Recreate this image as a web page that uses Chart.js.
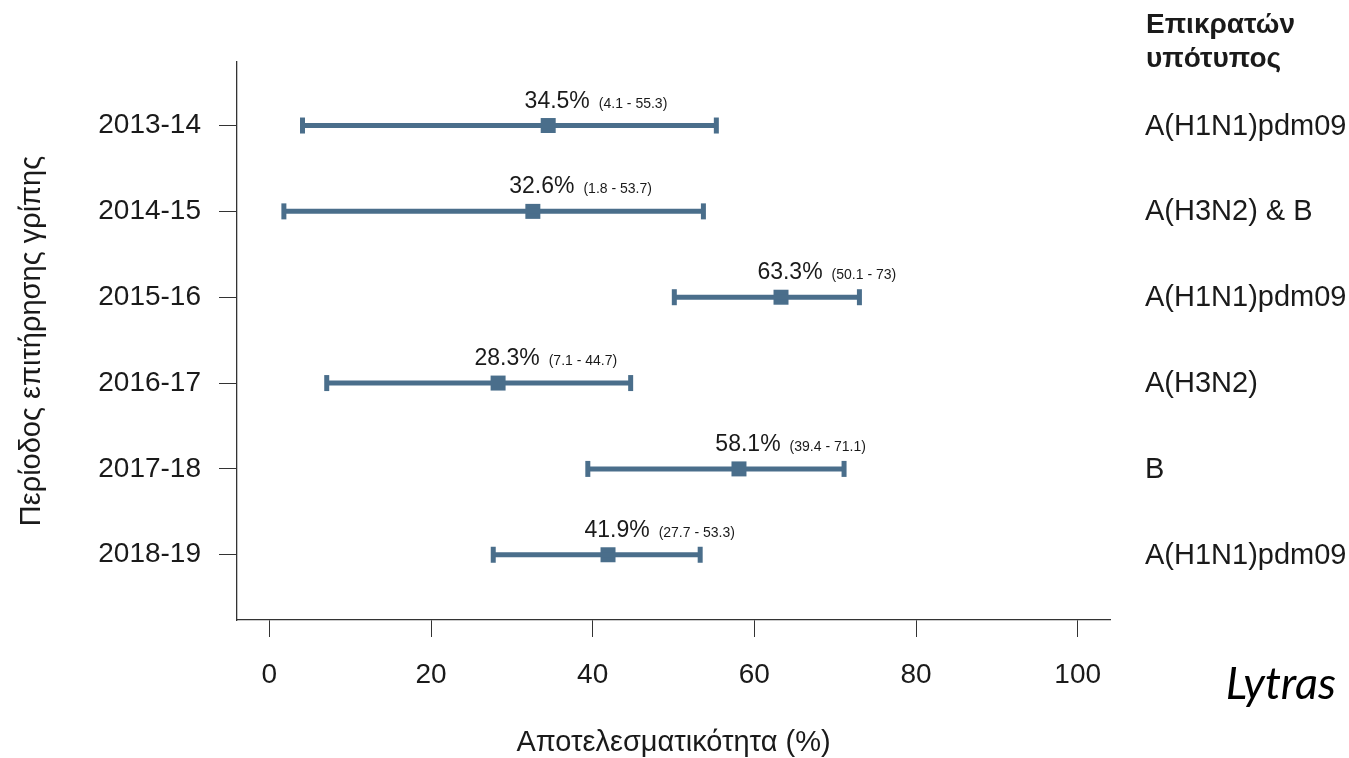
<!DOCTYPE html>
<html><head><meta charset="utf-8">
<script src="https://cdn.jsdelivr.net/npm/chart.js@4"></script>
<style>html,body{margin:0;padding:0;background:#fff}#wrap{width:1349px;height:758px;position:relative}</style>
</head><body><div id="wrap"><canvas id="c" width="1349" height="758"></canvas></div>
<script>
const seasons = ['2013-14','2014-15','2015-16','2016-17','2017-18','2018-19'];
const effect = [34.5, 32.6, 63.3, 28.3, 58.1, 41.9];
const lower = [4.1, 1.8, 50.1, 7.1, 39.4, 27.7];
const upper = [55.3, 53.7, 73, 44.7, 71.1, 53.3];
const subtypes = ['A(H1N1)pdm09','A(H3N2) & B','A(H1N1)pdm09','A(H3N2)','B','A(H1N1)pdm09'];
const xTicks = [0, 20, 40, 60, 80, 100];
const subtypeHeader = ['Επικρατών', 'υπότυπος'];

const COL = '#4a6e8b';
const TXT = '#1a1a1a';
const FONT = '"Liberation Sans", Arial, sans-serif';

const datasets = [];
seasons.forEach((s, i) => {
  datasets.push({
    type: 'line', label: s + ' CI',
    data: [{x: lower[i], y: i}, {x: upper[i], y: i}],
    borderColor: COL, borderWidth: 5, borderCapStyle: 'butt',
    pointStyle: 'line', pointRotation: 90, pointRadius: 8,
    pointBorderWidth: 5, pointBackgroundColor: COL, pointBorderColor: COL,
    showLine: true, fill: false
  });
});
datasets.push({
  type: 'scatter', label: 'VE',
  data: effect.map((v, i) => ({x: v, y: i})),
  pointStyle: 'rect', pointRadius: 10.6, backgroundColor: COL, borderColor: COL, borderWidth: 0
});

const labelPlugin = {
  id: 'labels',
  afterDatasetsDraw(chart) {
    const ctx = chart.ctx, xs = chart.scales.x, ys = chart.scales.y;
    ctx.save();
    ctx.fillStyle = TXT;
    ctx.textBaseline = 'alphabetic';
    seasons.forEach((s, i) => {
      const px = xs.getPixelForValue(effect[i]);
      const py = ys.getPixelForValue(i);
      const main = effect[i].toFixed(1) + '%';
      ctx.font = '23px ' + FONT;
      const w = ctx.measureText(main).width;
      const x0 = px + 9 - w / 2;
      ctx.textAlign = 'left';
      ctx.fillText(main, x0, py - 18);
      ctx.font = '14px ' + FONT;
      ctx.fillText('(' + lower[i] + ' - ' + upper[i] + ')', x0 + w + 9, py - 18);
      ctx.font = '29px ' + FONT;
      ctx.textBaseline = 'middle';
      ctx.fillText(subtypes[i], 1145, py + 1);
      ctx.textBaseline = 'alphabetic';
    });
    ctx.font = 'bold 28px ' + FONT;
    ctx.fillText(subtypeHeader[0], 1146, 33);
    ctx.fillText(subtypeHeader[1], 1146, 67);
    ctx.font = 'italic 45px Lato, "Open Sans", sans-serif';
    ctx.fillStyle = '#000';
    ctx.textAlign = 'right';
    ctx.fillText('Lytras', 1336, 699);
    ctx.restore();
  }
};

new Chart(document.getElementById('c'), {
  data: { datasets },
  options: {
    responsive: false, animation: false,
    layout: { padding: { left: 0, top: 62, right: 239, bottom: 0 } },
    plugins: { legend: { display: false }, tooltip: { enabled: false } },
    scales: {
      x: {
        type: 'linear', min: -4, max: 104,
        afterBuildTicks: sc => { sc.ticks = xTicks.map(v => ({value: v})); },
        afterFit: sc => { sc.height = 138; },
        grid: { drawOnChartArea: false, drawTicks: true, tickLength: 17, color: '#333', lineWidth: 1 },
        border: { display: true, color: '#333', width: 1.3 },
        ticks: { padding: 21, color: TXT, font: { family: FONT, size: 28 }, maxRotation: 0 },
        title: { display: true, text: 'Αποτελεσματικότητα (%)', color: TXT, font: { family: FONT, size: 29, lineHeight: 1 }, padding: { top: 0, bottom: 1 } }
      },
      y: {
        type: 'linear', reverse: true, min: -0.74, max: 5.76,
        afterBuildTicks: sc => { sc.ticks = seasons.map((s, i) => ({value: i})); },
        afterFit: sc => { sc.width = 237; },
        grid: { drawOnChartArea: false, drawTicks: true, tickLength: 18, color: '#333', lineWidth: 1 },
        border: { display: true, color: '#333', width: 1.3 },
        ticks: { padding: 18, color: TXT, font: { family: FONT, size: 28 }, callback: v => seasons[v] },
        title: { display: true, text: 'Περίοδος επιτήρησης γρίπης', color: TXT, font: { family: FONT, size: 29, lineHeight: 1 }, padding: { top: 17, bottom: 0 } }
      }
    }
  },
  plugins: [labelPlugin]
});
</script></body></html>
